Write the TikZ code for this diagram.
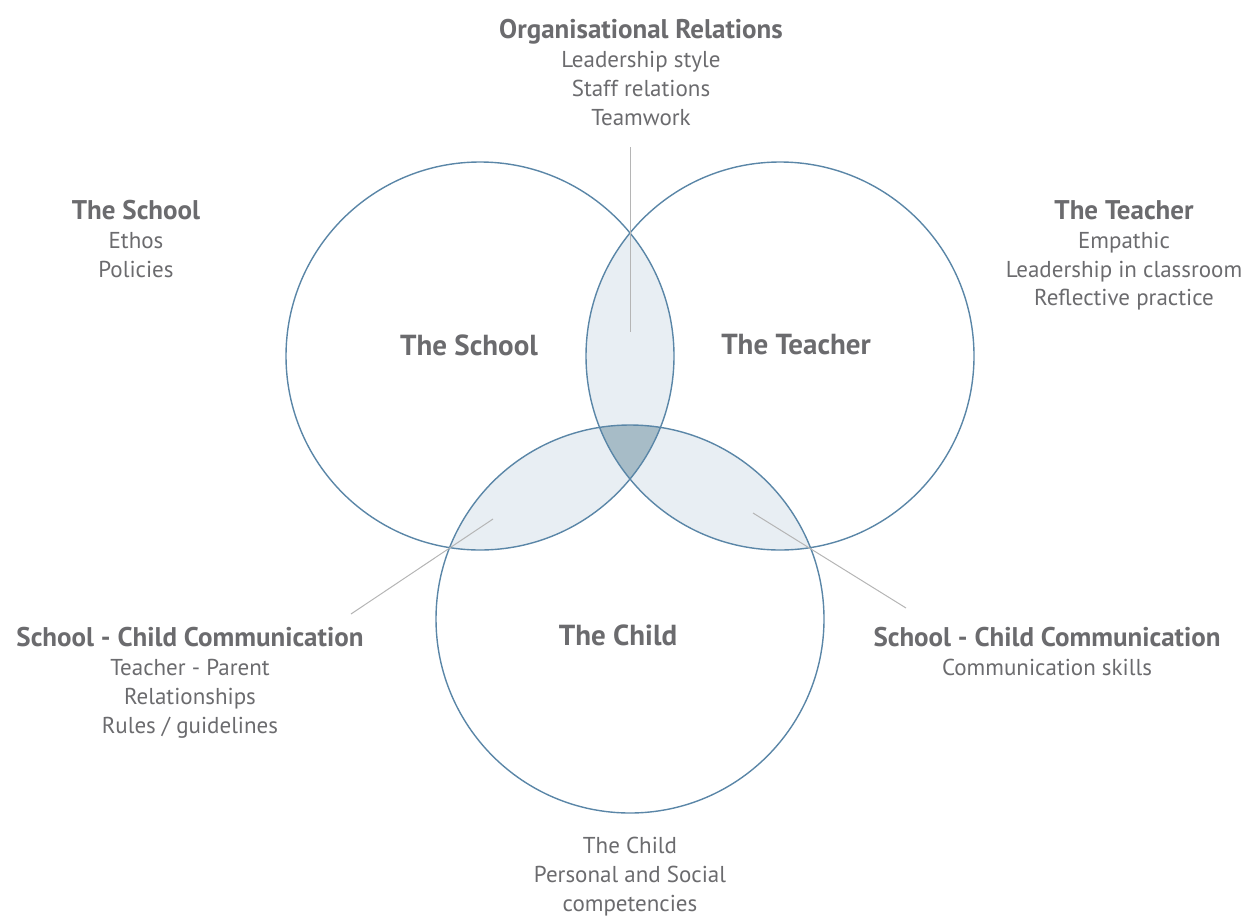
\documentclass[tikz,border=0pt]{standalone}
\usepackage{fontspec}
\setmainfont{PT Sans}
\definecolor{txt}{HTML}{6B6B6E}
\definecolor{ring}{HTML}{5A86A7}
\definecolor{lens}{HTML}{E8EEF3}
\definecolor{core}{HTML}{A7BCC7}
\definecolor{leader}{HTML}{B5B5B5}
\newcommand{\hd}[1]{{\fontsize{27}{28.5}\selectfont\bfseries #1}}
\begin{document}
\begin{tikzpicture}[x=1pt,y=-1pt,
  lbl/.style={text=txt,align=center,font=\fontsize{23}{28.8}\selectfont},
  big/.style={text=txt,font=\fontsize{29}{30}\selectfont\bfseries},
  ringline/.style={draw=ring,line width=1.4pt},
  lead/.style={draw=leader,line width=1pt}]
\useasboundingbox (0,0) rectangle (1244,918);
\def\cS{(480,356) circle (194)}
\def\cT{(780,356) circle (194)}
\def\cC{(630,619) circle (194)}
% pairwise intersections
\begin{scope}\clip \cS; \fill[lens] \cT; \end{scope}
\begin{scope}\clip \cS; \fill[lens] \cC; \end{scope}
\begin{scope}\clip \cT; \fill[lens] \cC; \end{scope}
\begin{scope}\clip \cS; \clip \cT; \fill[core] \cC; \end{scope}
% circles
\node[circle,minimum size=388pt,inner sep=0pt,ringline] (school) at (480,356) {};
\node[circle,minimum size=388pt,inner sep=0pt,ringline] (teacher) at (780,356) {};
\node[circle,minimum size=388pt,inner sep=0pt,ringline] (child) at (630,619) {};
% circle labels
\node[big] (ls) at (469,345) {The School};
\node[big] (lt) at (796,345) {The Teacher};
\node[big] (lc) at (618,635) {The Child};
% outer texts
\node[anchor=north,lbl] (org) at (641,16) {\hd{Organisational Relations}\\Leadership style\\Staff relations\\Teamwork};
\node[anchor=north,lbl] (sch) at (136,197) {\hd{The School}\\Ethos\\Policies};
\node[anchor=north,lbl] (tea) at (1124,197) {\hd{The Teacher}\\Empathic\\Leadership in classroom\\Reflective practice};
\node[anchor=north,lbl] (scl) at (190,624) {\hd{School - Child Communication}\\Teacher - Parent\\Relationships\\Rules / guidelines};
\node[anchor=north,lbl] (scr) at (1047,624) {\hd{School - Child Communication}\\Communication skills};
\node[anchor=north,lbl] (chd) at (630,834) {The Child\\Personal and Social\\competencies};
% leader lines
\coordinate (a1) at (630,147); \coordinate (a2) at (630,332);
\coordinate (b1) at (351,614); \coordinate (b2) at (493,519);
\coordinate (c1) at (753,513); \coordinate (c2) at (906,608);
\draw[lead] (a1) -- (a2);
\draw[lead] (b1) -- (b2);
\draw[lead] (c1) -- (c2);
\end{tikzpicture}
\end{document}
